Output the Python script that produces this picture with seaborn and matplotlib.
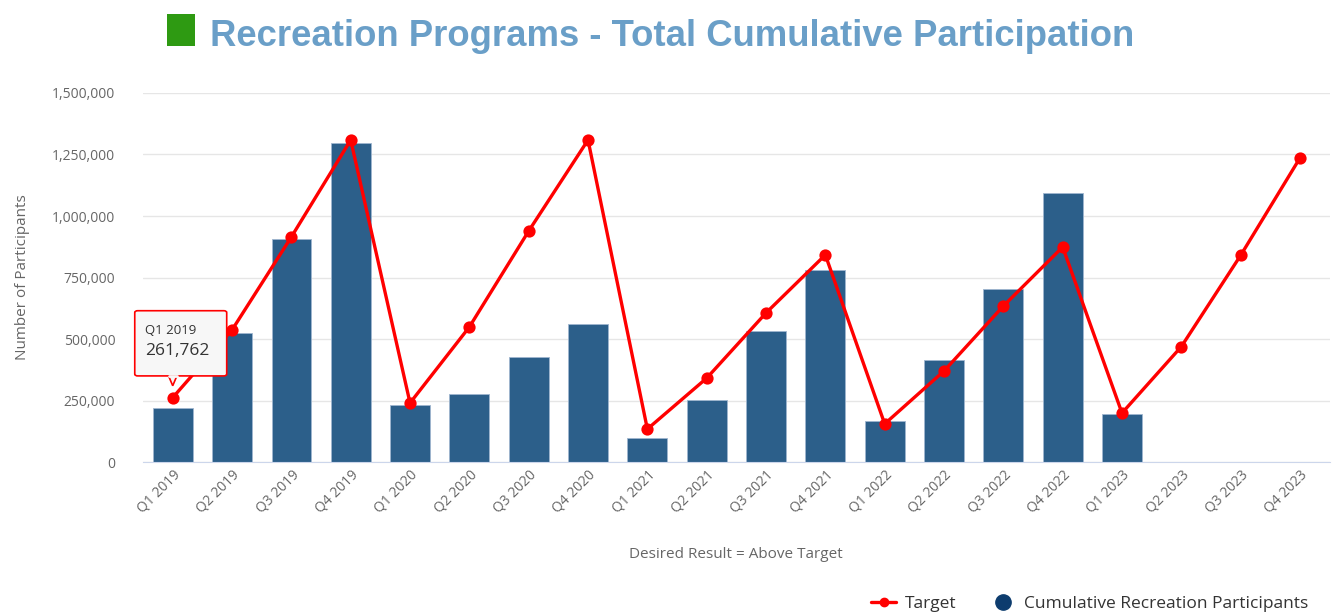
import matplotlib.pyplot as plt
import matplotlib.patches as mpatches
from matplotlib.lines import Line2D
import matplotlib.ticker as mticker
import pandas as pd
import seaborn as sns

# Recreation programs - cumulative participation vs target

quarters = ["Q1 2019", "Q2 2019", "Q3 2019", "Q4 2019",
            "Q1 2020", "Q2 2020", "Q3 2020", "Q4 2020",
            "Q1 2021", "Q2 2021", "Q3 2021", "Q4 2021",
            "Q1 2022", "Q2 2022", "Q3 2022", "Q4 2022",
            "Q1 2023", "Q2 2023", "Q3 2023", "Q4 2023"]

participants = [220000, 524000, 906000, 1297000,
                232000, 276000, 427000, 561000,
                98000, 254000, 532000, 780000,
                167000, 415000, 703000, 1094000,
                196000]

target = [261762, 537000, 915000, 1309000,
          240000, 549000, 939000, 1309000,
          134000, 341000, 606000, 842000,
          155000, 370000, 634000, 874000,
          199000, 469000, 840000, 1236000]

bar_color = "#2c5f8a"
legend_navy = "#0d3c6e"
text_gray = "#666666"

sns.set_style("white")
plt.rcParams["font.family"] = ["Open Sans", "DejaVu Sans"]

fig = plt.figure(figsize=(13.37, 6.13), dpi=100)
ax = fig.add_axes([0.107, 0.2463, 0.8875, 0.602])

bars = pd.DataFrame({"quarter": quarters[:len(participants)], "value": participants})
sns.barplot(data=bars, x="quarter", y="value", order=quarters, color=bar_color,
            width=0.67, saturation=1, edgecolor="#9fb6cf", linewidth=0.6, ax=ax, zorder=2)

tgt = pd.DataFrame({"quarter": quarters, "value": target})
sns.pointplot(data=tgt, x="quarter", y="value", order=quarters, color="#ff0000",
              markers="o", markersize=7, linewidth=2.4, ax=ax, zorder=3)

ax.set_xlim(-0.5, len(quarters) - 0.5)
ax.set_ylim(0, 1500000)
ax.set_yticks(range(0, 1500001, 250000))
ax.yaxis.set_major_formatter(mticker.FuncFormatter(lambda v, p: f"{int(v):,}"))
ax.grid(axis="y", color="#e6e6e6", linewidth=1, zorder=0)
ax.set_axisbelow(True)
for side in ["top", "right", "left"]:
    ax.spines[side].set_visible(False)
ax.spines["bottom"].set_color("#ccd6eb")
ax.tick_params(axis="y", length=0, labelsize=10, labelcolor=text_gray, pad=20)
ax.tick_params(axis="x", length=0, labelsize=10, labelcolor=text_gray, pad=4)
plt.setp(ax.get_xticklabels(), rotation=45, ha="right", rotation_mode="anchor")

ax.set_ylabel("Number of Participants", fontsize=11, color=text_gray, labelpad=16)
ax.set_xlabel("Desired Result = Above Target", fontsize=11, color=text_gray, labelpad=22)

# title with green square
fig.add_artist(mpatches.Rectangle((0.1249, 0.925), 0.0209, 0.052, transform=fig.transFigure,
                                  facecolor="#2e9a12", edgecolor="none"))
fig.text(0.157, 0.94, "Recreation Programs - Total Cumulative Participation",
         fontsize=26.3, fontweight="bold", color="#6a9fc8", ha="left", va="center",
         family=["Liberation Sans Narrow", "Liberation Sans", "DejaVu Sans"])

# tooltip on first target point
tip = mpatches.FancyBboxPatch((-0.64, 350000), 1.55, 265000,
                              boxstyle="round,pad=0,rounding_size=0.05",
                              facecolor="#f7f7f7", edgecolor="#ff0000", linewidth=1.2,
                              zorder=5, mutation_aspect=150000)
tip.set_clip_on(False)
ax.add_patch(tip)
ax.add_patch(mpatches.Polygon([(-0.07, 350000), (0.07, 350000), (0.0, 310000)],
                              closed=True, facecolor="#f7f7f7", edgecolor="#ff0000",
                              linewidth=1.2, zorder=5))
ax.plot([-0.065, 0.065], [350000, 350000], color="#f7f7f7", linewidth=2, zorder=6)
ax.text(-0.47, 535000, quarters[0], fontsize=9.5, color="#333333", va="center", zorder=7)
ax.text(-0.47, 450000, f"{target[0]:,}", fontsize=12.5, color="#333333", va="center", zorder=7)

handles = [Line2D([0], [0], color="#ff0000", linewidth=2.4, marker="o", markersize=6),
           Line2D([0], [0], color=legend_navy, linewidth=0, marker="o", markersize=11)]
fig.legend(handles, ["Target", "Cumulative Recreation Participants"],
           loc="lower right", bbox_to_anchor=(0.99, -0.024), ncol=2, frameon=False,
           fontsize=12.5, handlelength=1.4, handletextpad=0.5, columnspacing=2.0,
           labelcolor="#333333")

plt.savefig("out.png", dpi=100)
